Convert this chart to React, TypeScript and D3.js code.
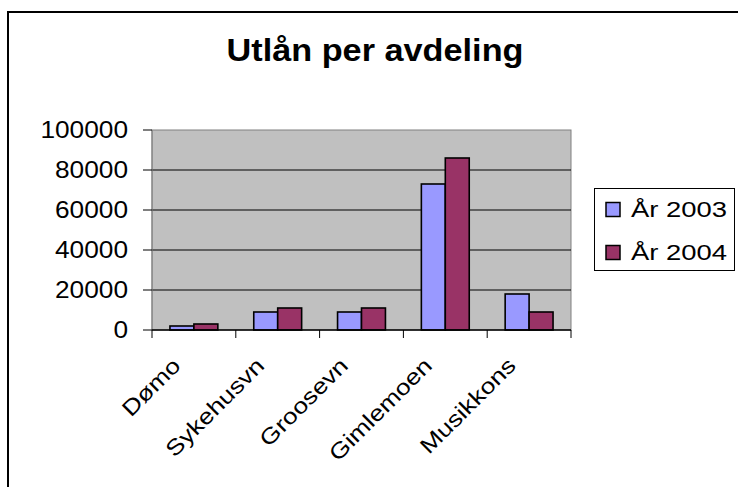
import * as d3 from "d3";

const categories = ["Dømo", "Sykehusvn", "Groosevn", "Gimlemoen", "Musikkons"];
const seriesNames = ["År 2003", "År 2004"];
const values2003 = [2000, 9000, 9000, 73000, 18000];
const values2004 = [3000, 11000, 11000, 86000, 9000];
const yTicks = [0, 20000, 40000, 60000, 80000, 100000];
const seriesColors = ["#9999FF", "#993366"];

const font = "Arial, 'Liberation Sans', sans-serif";

const App = () => {
  const width = 738;
  const height = 487;

  // plot area as in the original sheet
  const left = 152;
  const right = 571;
  const top = 130;
  const bottom = 330;

  const xScale = d3.scaleBand().domain(categories).range([left, right]).padding(0);
  const bw = xScale.bandwidth();
  // Excel default gap width 150%: two bars + 1.5 bar of gap per category
  const inner = d3.scaleBand().domain(seriesNames).range([0, bw]).paddingInner(0).paddingOuter(0.75);
  const yScale = d3.scaleLinear().domain([0, 100000]).range([bottom, top]);

  const series = [values2003, values2004];

  return (
    <svg
      width={width}
      height={height}
      style={{ position: "absolute", left: 0, top: 0, background: "#fff" }}
    >
      {/* outer chart frame */}
      <rect x={8} y={12} width={760} height={500} fill="#fff" stroke="#000" strokeWidth={2} />

      <text
        x={375}
        y={61}
        textAnchor="middle"
        fontFamily={font}
        fontWeight="bold"
        fontSize={32}
        textLength={297}
        lengthAdjust="spacingAndGlyphs"
      >
        Utlån per avdeling
      </text>

      {/* plot area */}
      <rect x={left} y={top} width={right - left} height={bottom - top} fill="#C0C0C0" stroke="#808080" strokeWidth={1} />

      {yTicks
        .filter((t) => t > 0 && t < 100000)
        .map((t) => (
          <line key={"g" + t} x1={left} x2={right} y1={yScale(t)} y2={yScale(t)} stroke="#000" strokeWidth={1} />
        ))}

      {/* bars */}
      {series.map((vals, si) =>
        categories.map((c, ci) => {
          const x0 = (xScale(c) ?? 0) + (inner(seriesNames[si]) ?? 0);
          const y0 = yScale(vals[ci]);
          return (
            <rect
              key={si + "-" + c}
              x={x0}
              y={y0}
              width={inner.bandwidth()}
              height={yScale(0) - y0}
              fill={seriesColors[si]}
              stroke="#000"
              strokeWidth={1.6}
            />
          );
        })
      )}

      {/* y axis */}
      <line x1={left} x2={left} y1={top} y2={bottom} stroke="#808080" strokeWidth={1} />
      {yTicks.map((t) => (
        <g key={"y" + t}>
          <line x1={left - 9} x2={left} y1={yScale(t)} y2={yScale(t)} stroke="#000" strokeWidth={1} />
          <text
            x={128}
            y={yScale(t) + 8}
            textAnchor="end"
            fontFamily={font}
            fontSize={23}
            textLength={String(t).length * 14.6}
            lengthAdjust="spacingAndGlyphs"
          >
            {t}
          </text>
        </g>
      ))}

      {/* x axis */}
      <line x1={left} x2={right} y1={bottom} y2={bottom} stroke="#000" strokeWidth={1.5} />
      {[...categories.map((c) => xScale(c) ?? 0), right].map((xv, i) => (
        <line key={"xt" + i} x1={xv} x2={xv} y1={bottom} y2={bottom + 8} stroke="#000" strokeWidth={1} />
      ))}
      {categories.map((c) => {
        const cx = (xScale(c) ?? 0) + bw / 2;
        return (
          <text
            key={"xl" + c}
            transform={`translate(${cx - 12},${bottom + 37}) rotate(-45) scale(1.2,1)`}
            textAnchor="end"
            fontFamily={font}
            fontSize={22}
          >
            {c}
          </text>
        );
      })}

      {/* legend */}
      <rect x={594.5} y={188.5} width={140} height={82} fill="#fff" stroke="#000" strokeWidth={1} />
      {seriesNames.map((s, i) => (
        <g key={"lg" + s}>
          <rect x={606} y={202.5 + i * 43} width={14} height={14} fill={seriesColors[i]} stroke="#000" strokeWidth={1.5} />
          <text
            x={631}
            y={217 + i * 43}
            fontFamily={font}
            fontSize={22}
            textLength={96}
            lengthAdjust="spacingAndGlyphs"
          >
            {s}
          </text>
        </g>
      ))}
    </svg>
  );
};

export default App;
